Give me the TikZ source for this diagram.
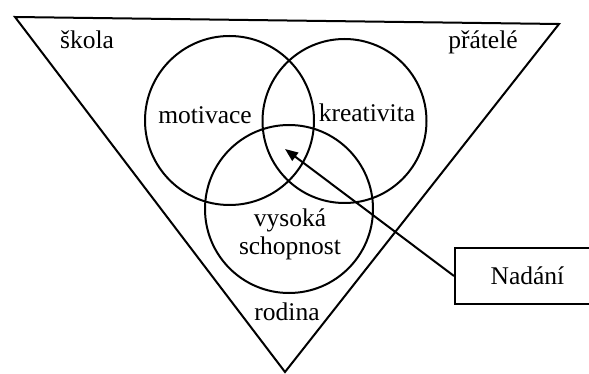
\documentclass[tikz,border=0pt]{standalone}
\usepackage{fontspec}
\setmainfont{Liberation Serif}
\newfontfamily\romanfont{Liberation Serif}
\usetikzlibrary{arrows.meta}
\begin{document}
\begin{tikzpicture}[
  x=1pt, y=-1pt,
  line width=2pt,
  every node/.style={font=\romanfont\fontsize{25.5}{28}\selectfont},
  area/.style={circle, draw, inner sep=0pt},
  word/.style={inner sep=1pt, align=center},
  giftbox/.style={draw, minimum width=145pt, minimum height=56pt}
]
\useasboundingbox (0,0) rectangle (589,374);

% triangle of surroundings
\coordinate (tl) at (15,17);
\coordinate (tr) at (559,24);
\coordinate (bot) at (285,372);
\draw (tl) -- (tr) -- (bot) -- cycle;

% the three circles
\node[area, minimum size=169pt] (motiv) at (229.5,120.5) {};
\node[area, minimum size=164pt] (kreat) at (344.5,121) {};
\node[area, minimum size=168pt] (schop) at (289,209) {};

\node[word] (skola) at (87,40) {škola};
\node[word] (pratele) at (483,42) {přátelé};
\node[word] (rodina) at (287,312) {rodina};
\node[word] (tmotiv) at (205,115) {motivace};
\node[word] (tkreat) at (367,113) {kreativita};
\node[word] (tschop) at (290,234) {vysoká\\schopnost};

\node[giftbox] (nadani) at (527.5,276) {Nadání};
\coordinate (tip) at (285,149);
\draw[-{Triangle[length=13pt,width=10pt]}] (nadani.west) -- (tip);
\end{tikzpicture}
\end{document}
